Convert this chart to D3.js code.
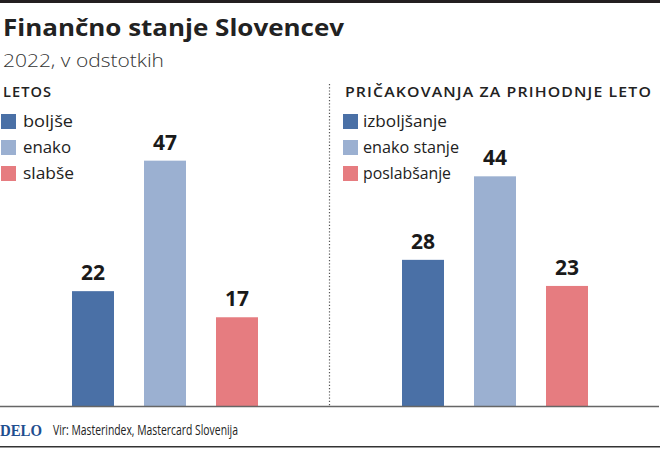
<!DOCTYPE html>
<html><head><meta charset="utf-8">
<script src="https://cdn.jsdelivr.net/npm/d3@7"></script>
<style>body{margin:0;background:#fff}svg{display:block}</style>
</head><body>
<script>
const title = "Finančno stanje Slovencev";
const subtitle = "2022, v odstotkih";
const panelTitles = ["LETOS", "PRIČAKOVANJA ZA PRIHODNJE LETO"];
const leftCategories = ["boljše", "enako", "slabše"];
const leftValues = [22, 47, 17];
const rightCategories = ["izboljšanje", "enako stanje", "poslabšanje"];
const rightValues = [28, 44, 23];
const colors = ["#4a70a6", "#9bb0d1", "#e67c80"];
const source = "Vir: Masterindex, Mastercard Slovenija";
const brand = "DELO";

const W = 660, H = 449;
const svg = d3.select("body").append("svg").attr("width", W).attr("height", H);
const font = "'Open Sans', 'Noto Sans', sans-serif";

svg.append("rect").attr("x",0).attr("y",0).attr("width",W).attr("height",3).attr("fill","#231f20");
svg.append("text").attr("x",3).attr("y",36).text(title)
  .attr("font-family",font).attr("font-weight",700).attr("font-size",24).attr("fill","#222")
  .attr("textLength",341).attr("lengthAdjust","spacingAndGlyphs");
svg.append("text").attr("x",3).attr("y",67).text(subtitle)
  .attr("font-family",font).attr("font-weight",300).attr("font-size",18).attr("fill","#333")
  .attr("textLength",161).attr("lengthAdjust","spacingAndGlyphs");

const baseY = 406;
const y = d3.scaleLinear().domain([0, 50]).range([baseY, baseY - 50*5.22]);

const panels = [
  {x0: 0, title: panelTitles[0], titleLen: 49, cats: leftCategories, vals: leftValues, lx: 1, tx: 23, textLens:[50,48,51]},
  {x0: 330, title: panelTitles[1], titleLen: 307, cats: rightCategories, vals: rightValues, lx: 343, tx: 363, textLens:[84,96,88]}
];

panels.forEach(p => {
  const g = svg.append("g");
  g.append("text").attr("x", p.x0 + (p.x0 ? 15 : 3)).attr("y", 97).text(p.title)
    .attr("font-family",font).attr("font-weight",600).attr("font-size",14).attr("fill","#222")
    .attr("letter-spacing",1).attr("textLength",p.titleLen).attr("lengthAdjust","spacingAndGlyphs");
  p.cats.forEach((c,i) => {
    g.append("rect").attr("x",p.lx).attr("y",114+i*26).attr("width",15).attr("height",15).attr("fill",colors[i]);
    g.append("text").attr("x",p.tx).attr("y",127+i*26).text(c)
      .attr("font-family",font).attr("font-size",17).attr("fill","#222")
      .attr("textLength",p.textLens[i]).attr("lengthAdjust","spacingAndGlyphs");
  });
  const x = d3.scaleBand().domain(p.cats).range([p.x0 + 36, p.x0 + 294]).paddingInner(30/72).paddingOuter(0.5);
  g.selectAll("rect.bar").data(p.vals).join("rect").attr("class","bar")
    .attr("x",(d,i)=>x(p.cats[i])).attr("width",x.bandwidth())
    .attr("y",d=>y(d)).attr("height",d=>baseY-y(d)).attr("fill",(d,i)=>colors[i]);
  g.selectAll("text.val").data(p.vals).join("text").attr("class","val")
    .attr("x",(d,i)=>x(p.cats[i])+x.bandwidth()/2).attr("y",d=>y(d)-11)
    .attr("text-anchor","middle").text(d=>d)
    .attr("font-family",font).attr("font-weight",700).attr("font-size",21).attr("fill","#1a1a1a");
});

svg.append("line").attr("x1",329.5).attr("x2",329.5).attr("y1",84).attr("y2",baseY)
  .attr("stroke","#555").attr("stroke-width",1.2).attr("stroke-dasharray","1.2,2");
svg.append("line").attr("x1",0).attr("x2",659).attr("y1",baseY+0.5).attr("y2",baseY+0.5)
  .attr("stroke","#666").attr("stroke-width",1.6);

svg.append("text").attr("x",0).attr("y",436).text(brand)
  .attr("font-family","'Liberation Serif', serif").attr("font-weight",700).attr("font-size",17).attr("fill","#1f4f8f")
  .attr("textLength",42).attr("lengthAdjust","spacingAndGlyphs");
svg.append("text").attr("x",53).attr("y",435).text(source)
  .attr("font-family",font).attr("font-size",14).attr("fill","#222")
  .attr("textLength",185).attr("lengthAdjust","spacingAndGlyphs");
svg.append("rect").attr("x",0).attr("y",446).attr("width",W).attr("height",1.5).attr("fill","#333");
</script>
</body></html>
